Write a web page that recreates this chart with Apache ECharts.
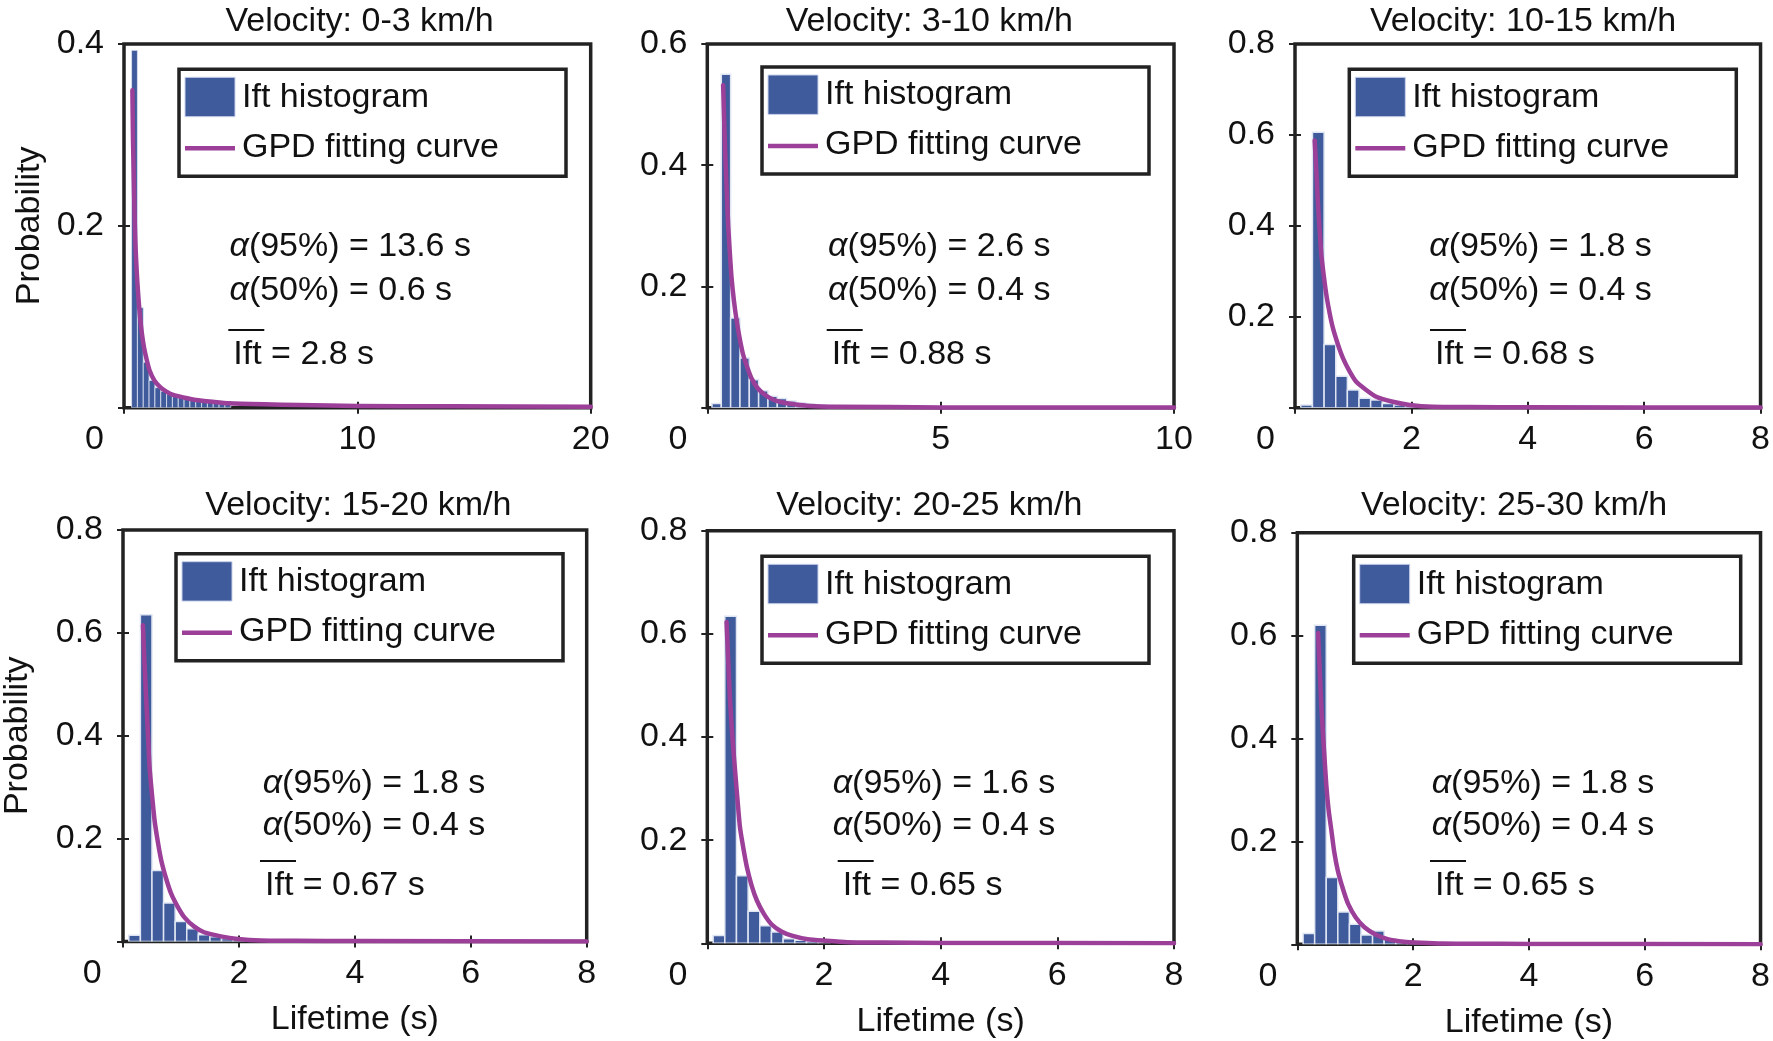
<!DOCTYPE html>
<html><head><meta charset="utf-8">
<script src="https://cdn.jsdelivr.net/npm/echarts@6/dist/echarts.min.js"></script>
<style>html,body{margin:0;padding:0;background:#fff}#chart{width:1773px;height:1041px}</style>
</head><body><div id="chart"></div>
<script>
// ---------- data ----------
const titles = ['Velocity: 0-3 km/h','Velocity: 3-10 km/h','Velocity: 10-15 km/h','Velocity: 15-20 km/h','Velocity: 20-25 km/h','Velocity: 25-30 km/h'];
const legendNames = ['Ift histogram', 'GPD fitting curve'];
const xMax = [20, 10, 8, 8, 8, 8];
const xInterval = [10, 5, 2, 2, 2, 2];
const yMax = [0.4, 0.6, 0.8, 0.8, 0.8, 0.8];
const yInterval = 0.2;
const binWidth = [0.25, 0.2, 0.2, 0.2, 0.2, 0.2];

const binCenters1 = [0.45,0.70,0.95,1.20,1.45,1.70,1.95,2.20,2.45,2.70,2.95,3.20,3.45,3.70,3.95,4.20,4.45];
const hist1 = [0.393,0.110,0.050,0.030,0.022,0.018,0.015,0.013,0.012,0.011,0.010,0.009,0.009,0.008,0.007,0.007,0.006];
const binCenters2 = [0.2,0.4,0.6,0.8,1.0,1.2,1.4,1.6,1.8,2.0,2.2,2.4,2.6,2.8];
const hist2 = [0.007,0.550,0.148,0.082,0.046,0.028,0.019,0.015,0.011,0.008,0.006,0.005,0.004,0.003];
const binCenters3 = [0.2,0.4,0.6,0.8,1.0,1.2,1.4,1.6,1.8,2.0];
const hist3 = [0.006,0.606,0.139,0.069,0.039,0.021,0.017,0.009,0.006,0.004];
const binCenters4 = [0.2,0.4,0.6,0.8,1.0,1.2,1.4,1.6,1.8,2.0];
const hist4 = [0.012,0.635,0.138,0.075,0.039,0.025,0.013,0.009,0.006,0.004];
const binCenters5 = [0.2,0.4,0.6,0.8,1.0,1.2,1.4,1.6,1.8,2.0];
const hist5 = [0.015,0.634,0.131,0.062,0.034,0.022,0.009,0.006,0.004,0.003];
const binCenters6 = [0.2,0.4,0.6,0.8,1.0,1.2,1.4,1.6,1.8,2.0];
const hist6 = [0.021,0.620,0.130,0.063,0.039,0.018,0.026,0.010,0.006,0.004];

// GPD fitting curves
const curveX1 = [0.36,0.373,0.386,0.41,0.43,0.455,0.485,0.525,0.57,0.63,0.69,0.77,0.86,0.98,1.11,1.3,1.54,1.8,2.11,2.6,3.1,3.8,4.5,6,7.5,10,14,20];
const curveY1 = [0.349,0.32,0.294,0.265,0.239,0.21,0.183,0.16,0.139,0.117,0.099,0.081,0.066,0.052,0.040,0.030,0.023,0.018,0.014,0.011,0.0085,0.0065,0.0048,0.0037,0.003,0.002,0.0015,0.001];
const curveX2 = [0.34,0.365,0.39,0.42,0.45,0.485,0.52,0.57,0.63,0.70,0.77,0.86,0.95,1.08,1.24,1.45,1.74,2.2,2.8,5,10];
const curveY2 = [0.532,0.465,0.408,0.35,0.297,0.253,0.214,0.177,0.143,0.112,0.087,0.066,0.048,0.032,0.021,0.012,0.007,0.003,0.0017,0.0005,0.0002];
const curveX3 = [0.338,0.366,0.395,0.424,0.452,0.492,0.538,0.595,0.652,0.738,0.824,0.938,1.053,1.224,1.396,1.68,1.97,2.37,3,4,8];
const curveY3 = [0.588,0.522,0.448,0.389,0.337,0.293,0.249,0.208,0.175,0.139,0.109,0.080,0.057,0.039,0.024,0.013,0.006,0.002,0.0015,0.001,0.0003];
const curveX4 = [0.344,0.372,0.401,0.430,0.458,0.499,0.544,0.602,0.659,0.745,0.831,0.947,1.06,1.23,1.40,1.69,1.98,2.38,3,4,8];
const curveY4 = [0.615,0.540,0.469,0.404,0.339,0.287,0.236,0.193,0.158,0.122,0.093,0.067,0.047,0.029,0.018,0.010,0.005,0.002,0.0015,0.0008,0.0002];
const curveX5 = [0.33,0.36,0.39,0.43,0.48,0.52,0.56,0.62,0.68,0.76,0.85,0.97,1.10,1.27,1.45,1.72,2.02,2.4,3,4,8];
const curveY5 = [0.623,0.545,0.471,0.40,0.329,0.275,0.225,0.183,0.147,0.112,0.083,0.057,0.037,0.023,0.015,0.008,0.005,0.002,0.0015,0.0008,0.0002];
const curveX6 = [0.36,0.39,0.42,0.46,0.50,0.54,0.59,0.64,0.70,0.79,0.88,1.01,1.16,1.35,1.56,1.84,2.14,2.5,3,4,8];
const curveY6 = [0.605,0.525,0.453,0.38,0.311,0.262,0.220,0.178,0.143,0.107,0.078,0.052,0.033,0.019,0.010,0.005,0.003,0.0015,0.0012,0.0006,0.0002];

const alpha95 = ['13.6','2.6','1.8','1.8','1.6','1.8'];
const alpha50 = ['0.6','0.4','0.4','0.4','0.4','0.4'];
const meanLft = ['2.8','0.88','0.68','0.67','0.65','0.65'];

const binCenters = [binCenters1,binCenters2,binCenters3,binCenters4,binCenters5,binCenters6];
const hists = [hist1,hist2,hist3,hist4,hist5,hist6];
const curveXs = [curveX1,curveX2,curveX3,curveX4,curveX5,curveX6];
const curveYs = [curveY1,curveY2,curveY3,curveY4,curveY5,curveY6];

// ---------- layout / style ----------
const FONT = 'Liberation Sans, Arial, sans-serif';
const FS = 34;
const BAR = '#3f5b9c';
const CURVE = '#9c3f99';
const INK = '#111';
const BOX = '#222';

const grids = [
  {left:124, top:44, width:466.7, height:363.7},
  {left:707.3, top:44, width:466.7, height:363.7},
  {left:1295, top:44, width:465.7, height:363.7},
  {left:121.7, top:530, width:465, height:411.5},
  {left:707.3, top:530.7, width:466.7, height:412.6},
  {left:1297.3, top:532.7, width:466, height:411.6}
];
const legendPos = [
  {left:179, top:69.3},{left:762, top:67},{left:1349.3, top:69.3},
  {left:176, top:553.7},{left:762, top:556.3},{left:1353.7, top:556.3}
];
const titlePos = [[359.6,22],[929.4,22],[1523,22],[358.4,506],[929.4,506],[1514,506]];
const alphaX = [229.5, 828, 1429.3, 262.7, 832.7, 1431.7];
const lftX = [233.3, 831.7, 1435, 265, 842.7, 1435];
const rowY = [[247, 291, 355, 330], [783.5, 825.5, 886, 861]];

const option = {
  backgroundColor:'#fff',
  animation:false,
  grid: grids.map(g => ({left:g.left, top:g.top, width:g.width, height:g.height, show:true, borderColor:BOX, borderWidth:3.5, backgroundColor:'transparent', containLabel:false})),
  xAxis: [], yAxis: [], series: [], graphic: []
};

const txt = (x, y, text, align, extra) => Object.assign({type:'text', x:x, y:y, z:20,
  style:{text:text, font:FS+'px '+FONT, fill:INK, align:align, verticalAlign:'middle'}}, extra || {});

for (let i = 0; i < 6; i++) {
  const row2 = i >= 3;
  const tick = {inside:true, length:6, lineStyle:{color:BOX, width:2}};
  option.xAxis.push({
    gridIndex:i, type:'value', min:0, max:xMax[i], interval:xInterval[i], position:'bottom',
    axisLine:{show:false}, axisTick:tick, splitLine:{show:false},
    axisLabel:{showMinLabel:false, fontSize:FS, fontFamily:FONT, color:INK, margin:15},
    name: row2 ? 'Lifetime (s)' : '', nameLocation:'middle', nameGap:61,
    nameTextStyle:{fontSize:FS, fontFamily:FONT, color:INK}
  });
  option.xAxis.push({
    gridIndex:i, type:'value', min:0, max:xMax[i], interval:xInterval[i], position:'top',
    axisLine:{show:false}, axisTick:tick, splitLine:{show:false}, axisLabel:{show:false}
  });
  option.yAxis.push({
    gridIndex:i, type:'value', min:0, max:yMax[i], interval:yInterval, position:'left',
    axisLine:{show:false}, axisTick:tick, splitLine:{show:false},
    axisLabel:{showMinLabel:false, fontSize:FS, fontFamily:FONT, color:INK, margin:20},
    name: (i === 0 || i === 3) ? 'Probability' : '', nameLocation:'middle',
    nameGap: i === 0 ? 77 : 88,
    nameTextStyle:{fontSize:FS, fontFamily:FONT, color:INK}
  });
  option.yAxis.push({
    gridIndex:i, type:'value', min:0, max:yMax[i], interval:yInterval, position:'right',
    axisLine:{show:false}, axisTick:tick, splitLine:{show:false}, axisLabel:{show:false}
  });

  const w = binWidth[i];
  option.series.push({
    type:'custom', name:legendNames[0], xAxisIndex:2*i, yAxisIndex:2*i, clip:true,
    itemStyle:{color:BAR},
    data: binCenters[i].map((c, k) => [c, hists[i][k]]),
    renderItem: (params, api) => {
      const c = api.value(0), h = api.value(1);
      const p0 = api.coord([c - w/2, h]);
      const p1 = api.coord([c + w/2, 0]);
      return {type:'rect', shape:{x:p0[0], y:p0[1], width:p1[0]-p0[0], height:p1[1]-p0[1]},
        style:{fill:BAR, stroke:'#dfe5f2', lineWidth: i === 0 ? 0.8 : 1.5}};
    }
  });
  option.series.push({
    type:'line', name:legendNames[1], xAxisIndex:2*i, yAxisIndex:2*i,
    data: curveXs[i].map((x, k) => [x, curveYs[i][k]]),
    symbol:'none', smooth:0.2,
    lineStyle:{color:CURVE, width:4.5, join:'round', cap:'round'}, itemStyle:{color:CURVE}, z:5
  });

  // legend (drawn box)
  const L = legendPos[i].left, T = legendPos[i].top;
  option.graphic.push({type:'rect', z:15, shape:{x:L, y:T, width:387, height:107},
    style:{fill:'#fff', stroke:BOX, lineWidth:3.5}});
  option.graphic.push({type:'rect', z:16, shape:{x:L+6, y:T+8, width:50, height:39.4},
    style:{fill:BAR, stroke:'#c9d2ea', lineWidth:1}});
  option.graphic.push({type:'line', z:16, shape:{x1:L+6, y1:T+79, x2:L+56, y2:T+79},
    style:{stroke:CURVE, lineWidth:4.5}});
  option.graphic.push(txt(L+63, T+28, legendNames[0], 'left'));
  option.graphic.push(txt(L+63, T+78, legendNames[1], 'left'));

  // title
  option.graphic.push(txt(titlePos[i][0], titlePos[i][1], titles[i], 'center'));
  // shared origin "0"
  const g = grids[i];
  option.graphic.push(txt(g.left - 20, g.top + g.height + 32, '0', 'right'));
  // annotations
  const ry = rowY[row2 ? 1 : 0];
  const rich = {a:{fontStyle:'italic', fontSize:FS, fontFamily:FONT, fill:INK}};
  const a95 = txt(alphaX[i], ry[0], '{a|α}(95%) = ' + alpha95[i] + ' s', 'left');
  a95.style.rich = rich;
  const a50 = txt(alphaX[i], ry[1], '{a|α}(50%) = ' + alpha50[i] + ' s', 'left');
  a50.style.rich = rich;
  option.graphic.push(a95, a50);
  option.graphic.push(txt(lftX[i], ry[2], 'Ift = ' + meanLft[i] + ' s', 'left'));
  option.graphic.push({type:'line', z:20,
    shape:{x1:lftX[i]-5, y1:ry[3], x2:lftX[i]+31, y2:ry[3]},
    style:{stroke:INK, lineWidth:2}});
}

const chart = echarts.init(document.getElementById('chart'), null, {renderer:'canvas'});
chart.setOption(option);
</script></body></html>
